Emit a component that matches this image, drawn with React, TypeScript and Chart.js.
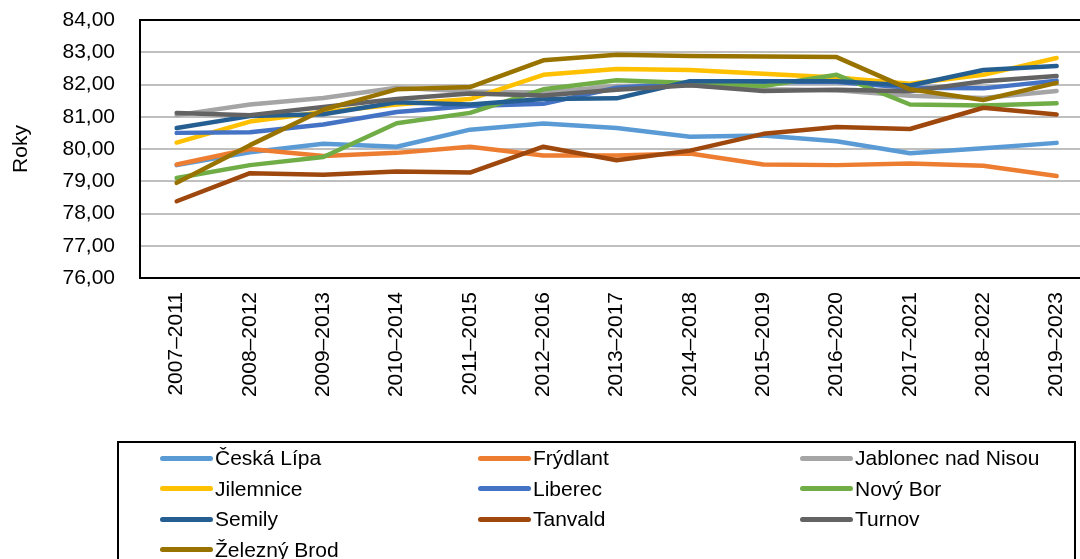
import React, { useEffect, useRef } from "react";
import { Chart, registerables } from "chart.js";

Chart.register(...registerables);

const categories = [
  "2007–2011", "2008–2012", "2009–2013", "2010–2014", "2011–2015", "2012–2016", "2013–2017",
  "2014–2018", "2015–2019", "2016–2020", "2017–2021", "2018–2022", "2019–2023",
];

const ceskaLipa = [79.5, 79.9, 80.16, 80.07, 80.6, 80.79, 80.65, 80.38, 80.42, 80.24, 79.87, 80.02, 80.19];
const frydlant = [79.52, 80.0, 79.78, 79.88, 80.07, 79.8, 79.8, 79.86, 79.52, 79.5, 79.55, 79.48, 79.16];
const jablonec = [81.05, 81.38, 81.58, 81.9, 81.78, 81.75, 81.95, 81.98, 81.85, 81.82, 81.65, 81.58, 81.8];
const jilemnice = [80.2, 80.85, 81.15, 81.38, 81.55, 82.3, 82.48, 82.45, 82.33, 82.22, 82.02, 82.3, 82.82];
const liberec = [80.5, 80.52, 80.76, 81.15, 81.33, 81.4, 81.9, 82.05, 82.08, 82.08, 81.9, 81.88, 82.12];
const novyBor = [79.1, 79.5, 79.75, 80.8, 81.12, 81.85, 82.13, 82.05, 81.95, 82.3, 81.38, 81.35, 81.42];
const semily = [80.65, 81.02, 81.08, 81.45, 81.38, 81.55, 81.57, 82.1, 82.1, 82.1, 81.97, 82.45, 82.57];
const tanvald = [78.38, 79.25, 79.2, 79.3, 79.27, 80.07, 79.65, 79.95, 80.47, 80.68, 80.62, 81.28, 81.07];
const turnov = [81.12, 81.05, 81.3, 81.55, 81.72, 81.66, 81.84, 81.98, 81.8, 81.84, 81.79, 82.1, 82.26];
const zeleznyBrod = [78.95, 80.12, 81.22, 81.85, 81.92, 82.75, 82.92, 82.88, 82.87, 82.85, 81.85, 81.52, 82.05];

const seriesNames = [
  "Česká Lípa", "Frýdlant", "Jablonec nad Nisou", "Jilemnice", "Liberec",
  "Nový Bor", "Semily", "Tanvald", "Turnov", "Železný Brod",
];
const seriesValues = [ceskaLipa, frydlant, jablonec, jilemnice, liberec, novyBor, semily, tanvald, turnov, zeleznyBrod];
const seriesColors = [
  "#5B9BD5", "#ED7D31", "#A5A5A5", "#FFC000", "#4472C4",
  "#70AD47", "#255E91", "#9E480E", "#636363", "#997300",
];

const yMin = 76;
const yMax = 84;
const yStep = 1;
const yTitle = "Roky";

const FONT = '"Liberation Sans", Arial, Helvetica, sans-serif';
const FS = 21;
const CW = 1100;
const CH = 559;

export default function App() {
  const ref = useRef<HTMLCanvasElement>(null);

  useEffect(() => {
    const frame = {
      id: "frame",
      beforeDatasetsDraw(chart: any) {
        const { ctx, chartArea } = chart;
        ctx.save();
        ctx.strokeStyle = "#000";
        ctx.lineWidth = 2;
        ctx.strokeRect(chartArea.left, chartArea.top, chartArea.right - chartArea.left, chartArea.bottom - chartArea.top);
        ctx.restore();
      },
    };
    const font = { family: FONT, size: FS };
    const chart = new Chart(ref.current as HTMLCanvasElement, {
      type: "line",
      data: {
        labels: categories,
        datasets: seriesValues.map((d, i) => ({
          label: seriesNames[i],
          data: d,
          borderColor: seriesColors[i],
          backgroundColor: seriesColors[i],
          borderWidth: 4.5,
          pointRadius: 0,
          pointHoverRadius: 0,
          tension: 0,
          fill: false,
          borderCapStyle: "round",
          borderJoinStyle: "round",
          order: 20 - i,
        })),
      },
      options: {
        responsive: false,
        animation: false,
        devicePixelRatio: 1,
        layout: { padding: { top: 20, right: CW - 1093.3, left: 0, bottom: 0 } },
        plugins: { legend: { display: false }, tooltip: { enabled: false } },
        scales: {
          x: {
            offset: true,
            grid: { display: false, drawTicks: false },
            border: { display: true, color: "#000", width: 2 },
            ticks: { autoSkip: false, minRotation: 90, maxRotation: 90, padding: 14, color: "#000", font },
            afterFit: (s: any) => {
              s.height = CH - 278;
              s.paddingLeft = 0;
              s.paddingRight = 0;
            },
          },
          y: {
            min: yMin,
            max: yMax,
            ticks: {
              stepSize: yStep,
              padding: 25,
              color: "#000",
              font,
              callback: (v: any) => Number(v).toFixed(2).replace(".", ","),
            },
            grid: { color: "#BFBFBF", lineWidth: 2, drawTicks: false },
            border: { display: true, color: "#000", width: 2 },
            title: { display: true, text: yTitle, color: "#000", font, padding: { top: 9, bottom: 0 } },
            afterFit: (s: any) => {
              s.width = 140;
              s.paddingTop = 0;
              s.paddingBottom = 0;
            },
          },
        },
      },
      plugins: [frame],
    } as any);
    return () => chart.destroy();
  }, []);

  const colStarts = [160, 478, 800];
  const rowCenters = [458, 488.5, 519, 549.5];
  const lh = 24;

  return (
    <div style={{ position: "absolute", left: 0, top: 0, width: 1080, height: CH, overflow: "hidden", background: "#fff" }}>
      <canvas ref={ref} width={CW} height={CH} style={{ display: "block" }} />
      <div
        style={{
          position: "absolute",
          left: 117,
          top: 441,
          width: 1076 - 117,
          height: 140,
          border: "2px solid #000",
          boxSizing: "border-box",
        }}
      />
      {seriesNames.map((name, i) => {
        const col = i % 3;
        const row = Math.floor(i / 3);
        const x = colStarts[col];
        const y = rowCenters[row];
        return (
          <React.Fragment key={name}>
            <div
              style={{
                position: "absolute",
                left: x,
                top: y - 2.5,
                width: 53,
                height: 5,
                borderRadius: 2.5,
                background: seriesColors[i],
              }}
            />
            <div
              style={{
                position: "absolute",
                left: x + 55,
                top: y - lh / 2,
                height: lh,
                lineHeight: `${lh}px`,
                fontFamily: FONT,
                fontSize: FS,
                color: "#000",
                whiteSpace: "nowrap",
              }}
            >
              {name}
            </div>
          </React.Fragment>
        );
      })}
    </div>
  );
}
